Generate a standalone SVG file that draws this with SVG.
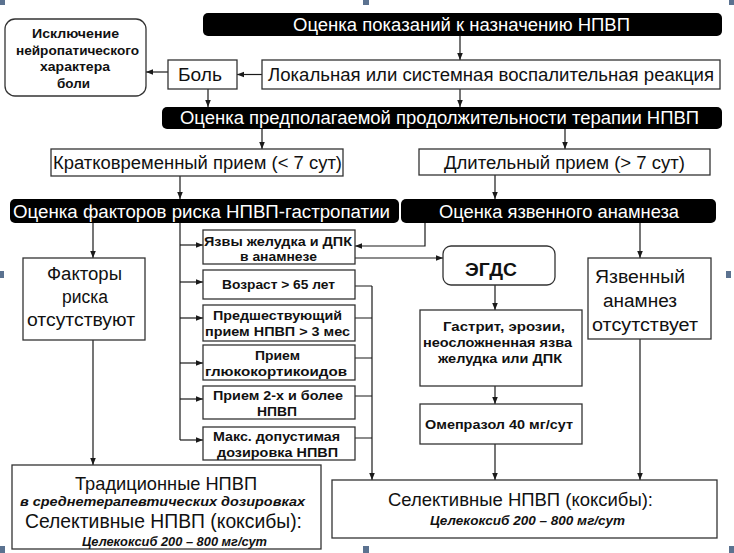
<svg xmlns="http://www.w3.org/2000/svg" width="734" height="553" viewBox="0 0 734 553">
<defs>
<marker id="ah" viewBox="0 0 8 8" refX="8" refY="4" markerWidth="7" markerHeight="7" orient="auto" markerUnits="userSpaceOnUse"><path d="M0,0.8 L8,4 L0,7.2 z" fill="#1a1a1a"/></marker>
<style>
.bar{fill:#000;}
.bt{fill:#fff;font-family:"Liberation Sans",Arial,sans-serif;font-size:17.5px;}
.box{fill:#fff;stroke:#333;stroke-width:1.3;}
.t{fill:#111;font-family:"Liberation Sans",Arial,sans-serif;font-size:18px;}
.b{fill:#111;font-family:"Liberation Sans",Arial,sans-serif;font-size:13.5px;font-weight:bold;}
.bi{fill:#111;font-family:"Liberation Sans",Arial,sans-serif;font-size:13px;font-weight:bold;font-style:italic;}
.c{fill:none;stroke:#1a1a1a;stroke-width:1.2;}
.a{marker-end:url(#ah);}
.h{fill:#5b7290;}
</style>
</defs>
<rect width="734" height="553" fill="#fff"/>
<g id="handles">
<rect class="h" x="0" y="0" width="5" height="5"/>
<rect class="h" x="363" y="0" width="6" height="5"/>
<rect class="h" x="729" y="0" width="5" height="5"/>
<rect class="h" x="0" y="271" width="4" height="7"/>
<rect class="h" x="726" y="271" width="5" height="7"/>
<rect class="h" x="0" y="546" width="5" height="7"/>
<rect class="h" x="363" y="546" width="6" height="7"/>
<rect class="h" x="729" y="546" width="5" height="7"/>
</g>
<g id="connectors">
<path class="c a" d="M460,36 V60"/>
<path class="c a" d="M262,74.5 H237"/>
<path class="c a" d="M168,72 H146"/>
<path class="c a" d="M208,89 V107"/>
<path class="c a" d="M460,89 V107"/>
<path class="c a" d="M262,129 V149"/>
<path class="c a" d="M565,129 V149"/>
<path class="c a" d="M180,176 V199"/>
<path class="c a" d="M495,175 V199"/>
<path class="c a" d="M93,223 V258"/>
<path class="c" d="M180,223 V440"/>
<path class="c a" d="M180,245 H203"/>
<path class="c a" d="M180,282 H203"/>
<path class="c a" d="M180,318 H203"/>
<path class="c a" d="M180,363 H203"/>
<path class="c a" d="M180,399 H203"/>
<path class="c a" d="M180,440 H203"/>
<path class="c a" d="M425,223 V246 H355"/>
<path class="c a" d="M355,258 H443"/>
<path class="c" d="M355,286 H372 M355,318 H372 M355,358 H372 M355,396 H372 M355,438 H372"/>
<path class="c a" d="M372,286 V480"/>
<path class="c a" d="M640,223 V258"/>
<path class="c a" d="M495,285 V310"/>
<path class="c a" d="M495,386 V404"/>
<path class="c a" d="M495,444 V480"/>
<path class="c a" d="M640,339 V480"/>
<path class="c a" d="M93,340 V465"/>
</g>
<g id="n-indications">
<rect class="bar" x="203" y="13" width="519" height="23" rx="5"/>
<text class="bt" x="293" y="30.5" textLength="337" lengthAdjust="spacingAndGlyphs">Оценка показаний к назначению НПВП</text>
</g>
<g id="n-inflammation">
<rect class="box" x="262" y="60" width="458" height="29"/>
<text class="t" x="268" y="81" style="font-size:17.5px" textLength="446" lengthAdjust="spacingAndGlyphs">Локальная или системная воспалительная реакция</text>
</g>
<g id="n-pain">
<rect class="box" x="168" y="60" width="69" height="29"/>
<text class="t" x="178" y="81" textLength="44" lengthAdjust="spacingAndGlyphs">Боль</text>
</g>
<g id="n-neuropathic">
<rect class="box" x="5" y="19" width="141" height="77" rx="10"/>
<text class="b" x="32" y="38" textLength="87" lengthAdjust="spacingAndGlyphs">Исключение</text>
<text class="b" x="16" y="54.5" textLength="123" lengthAdjust="spacingAndGlyphs">нейропатического</text>
<text class="b" x="40" y="71" textLength="70" lengthAdjust="spacingAndGlyphs">характера</text>
<text class="b" x="57" y="87.5" textLength="33" lengthAdjust="spacingAndGlyphs">боли</text>
</g>
<g id="n-duration">
<rect class="bar" x="162" y="107" width="560" height="22" rx="5"/>
<text class="bt" x="180" y="124" textLength="519" lengthAdjust="spacingAndGlyphs">Оценка предполагаемой продолжительности терапии НПВП</text>
</g>
<g id="n-short">
<rect class="box" x="51" y="149" width="292" height="27"/>
<text class="t" x="53" y="169" textLength="289" lengthAdjust="spacingAndGlyphs">Кратковременный прием (&lt; 7 сут)</text>
</g>
<g id="n-long">
<rect class="box" x="419" y="149" width="291" height="26"/>
<text class="t" x="444" y="168.5" textLength="241" lengthAdjust="spacingAndGlyphs">Длительный прием (&gt; 7 сут)</text>
</g>
<g id="n-riskfactors">
<rect class="bar" x="10" y="199" width="389" height="24" rx="5"/>
<text class="bt" x="13" y="217.5" style="font-size:18px" textLength="377" lengthAdjust="spacingAndGlyphs">Оценка факторов риска НПВП-гастропатии</text>
</g>
<g id="n-ulcerhistory">
<rect class="bar" x="401" y="199" width="315" height="24" rx="5"/>
<text class="bt" x="439" y="217.5" style="font-size:18px" textLength="240" lengthAdjust="spacingAndGlyphs">Оценка язвенного анамнеза</text>
</g>
<g id="n-norisk">
<rect class="box" x="23" y="258" width="122" height="82"/>
<text class="t" x="47" y="280" textLength="75" lengthAdjust="spacingAndGlyphs">Факторы</text>
<text class="t" x="62" y="303" textLength="46" lengthAdjust="spacingAndGlyphs">риска</text>
<text class="t" x="27" y="326" textLength="108" lengthAdjust="spacingAndGlyphs">отсутствуют</text>
</g>
<g id="n-f-ulcers">
<rect class="box" x="203" y="230" width="152" height="34"/>
<text class="b" x="204" y="245.5" textLength="148" lengthAdjust="spacingAndGlyphs">Язвы желудка и ДПК</text>
<text class="b" x="240" y="260.5" textLength="77" lengthAdjust="spacingAndGlyphs">в анамнезе</text>
</g>
<g id="n-f-age">
<rect class="box" x="203" y="270" width="152" height="29"/>
<text class="b" x="222" y="289" textLength="113" lengthAdjust="spacingAndGlyphs">Возраст &gt; 65 лет</text>
</g>
<g id="n-f-prior">
<rect class="box" x="203" y="305" width="152" height="36"/>
<text class="b" x="213" y="319.5" textLength="129" lengthAdjust="spacingAndGlyphs">Предшествующий</text>
<text class="b" x="205" y="336" textLength="145" lengthAdjust="spacingAndGlyphs">прием НПВП &gt; 3 мес</text>
</g>
<g id="n-f-gluco">
<rect class="box" x="203" y="345" width="152" height="35"/>
<text class="b" x="255" y="360" textLength="45" lengthAdjust="spacingAndGlyphs">Прием</text>
<text class="b" x="205" y="376" textLength="142" lengthAdjust="spacingAndGlyphs">глюкокортикоидов</text>
</g>
<g id="n-f-two">
<rect class="box" x="203" y="386" width="152" height="33"/>
<text class="b" x="213" y="400" textLength="130" lengthAdjust="spacingAndGlyphs">Прием 2-х и более</text>
<text class="b" x="257" y="416" textLength="40" lengthAdjust="spacingAndGlyphs">НПВП</text>
</g>
<g id="n-f-max">
<rect class="box" x="203" y="427" width="152" height="33"/>
<text class="b" x="213" y="441" textLength="127" lengthAdjust="spacingAndGlyphs">Макс. допустимая</text>
<text class="b" x="217" y="457" textLength="121" lengthAdjust="spacingAndGlyphs">дозировка НПВП</text>
</g>
<g id="n-egds">
<rect class="box" x="443" y="246" width="112" height="39" rx="8"/>
<text class="b" x="465" y="276" style="font-size:18px" textLength="52" lengthAdjust="spacingAndGlyphs">ЭГДС</text>
</g>
<g id="n-gastritis">
<rect class="box" x="420" y="310" width="162" height="76"/>
<text class="b" x="443" y="331" textLength="122" lengthAdjust="spacingAndGlyphs">Гастрит, эрозии,</text>
<text class="b" x="423" y="347" textLength="149" lengthAdjust="spacingAndGlyphs">неосложненная язва</text>
<text class="b" x="438" y="363" textLength="124" lengthAdjust="spacingAndGlyphs">желудка или ДПК</text>
</g>
<g id="n-omeprazole">
<rect class="box" x="420" y="404" width="162" height="40"/>
<text class="b" x="425" y="429" textLength="148" lengthAdjust="spacingAndGlyphs">Омепразол 40 мг/сут</text>
</g>
<g id="n-noulcer">
<rect class="box" x="588" y="258" width="123" height="81"/>
<text class="t" x="595" y="283" textLength="90" lengthAdjust="spacingAndGlyphs">Язвенный</text>
<text class="t" x="603" y="307" textLength="74" lengthAdjust="spacingAndGlyphs">анамнез</text>
<text class="t" x="592" y="331" textLength="106" lengthAdjust="spacingAndGlyphs">отсутствует</text>
</g>
<g id="n-traditional">
<rect class="box" x="12" y="465" width="309" height="84"/>
<text class="t" x="75" y="490" style="font-size:19px" textLength="182" lengthAdjust="spacingAndGlyphs">Традиционные НПВП</text>
<text class="bi" x="20" y="506" textLength="285" lengthAdjust="spacingAndGlyphs">в среднетерапевтических дозировках</text>
<text class="t" x="25" y="528" style="font-size:19.5px" textLength="277" lengthAdjust="spacingAndGlyphs">Селективные НПВП (коксибы):</text>
<text class="bi" x="82" y="546" textLength="185" lengthAdjust="spacingAndGlyphs">Целекоксиб 200 – 800 мг/сут</text>
</g>
<g id="n-selective">
<rect class="box" x="332" y="480" width="385" height="58"/>
<text class="t" x="388" y="506" style="font-size:19px" textLength="265" lengthAdjust="spacingAndGlyphs">Селективные НПВП (коксибы):</text>
<text class="bi" x="430" y="525" textLength="195" lengthAdjust="spacingAndGlyphs">Целекоксиб 200 – 800 мг/сут</text>
</g>
</svg>
